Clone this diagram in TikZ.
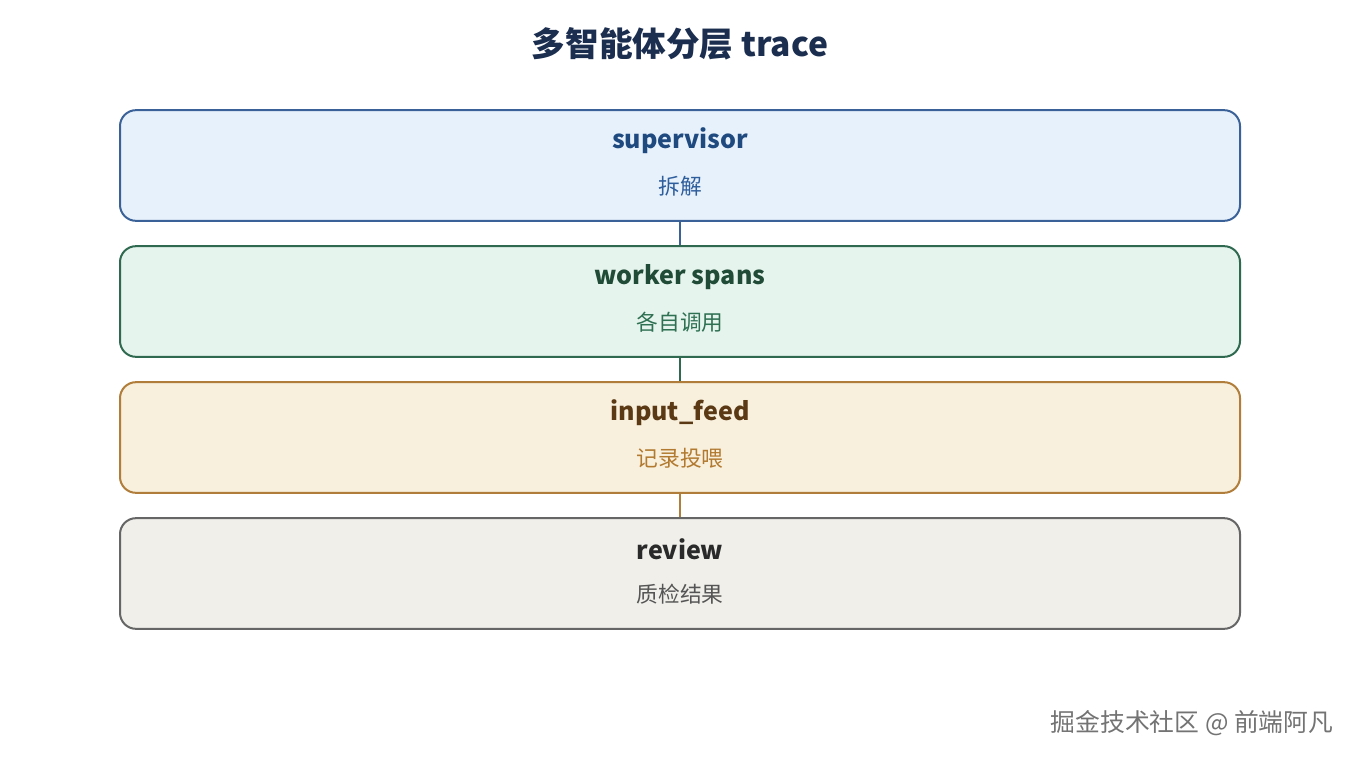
\documentclass[tikz,border=0pt]{standalone}
\usepackage{fontspec}
\setmainfont{Noto Sans CJK SC}
\usetikzlibrary{positioning}
\definecolor{titlec}{HTML}{1B2E4F}
\definecolor{fA}{HTML}{E7F1FB}\definecolor{dA}{HTML}{3A6298}\definecolor{tA}{HTML}{1F4A80}\definecolor{sA}{HTML}{2F5E9C}
\definecolor{fB}{HTML}{E6F4EE}\definecolor{dB}{HTML}{2F6A50}\definecolor{tB}{HTML}{1F4B37}\definecolor{sB}{HTML}{2E7052}
\definecolor{fC}{HTML}{F8EFDC}\definecolor{dC}{HTML}{B07D3A}\definecolor{tC}{HTML}{5A3914}\definecolor{sC}{HTML}{B27A30}
\definecolor{fD}{HTML}{F0EFEA}\definecolor{dD}{HTML}{666666}\definecolor{tD}{HTML}{2A2A2A}\definecolor{sD}{HTML}{555555}
\tikzset{
  layer/.style={draw, line width=1.5pt, rounded corners=12pt, minimum width=840pt, minimum height=83pt, inner sep=0pt},
  ltitle/.style={font=\fontsize{18.8}{22}\selectfont\bfseries},
  lsub/.style={font=\fontsize{16.3}{19}\selectfont},
  link/.style={line width=1.3pt},
}
\begin{document}
\begin{tikzpicture}[x=0.75pt,y=-0.75pt]
\useasboundingbox[fill=white] (0,0) rectangle (1360,760);
\node[font=\fontsize{25.2}{29}\selectfont\bfseries, text=titlec] (title) at (680,44) {多智能体分层 trace};

\node[layer, draw=dA, fill=fA] (sup) at (680,165.5) {};
\node[ltitle, text=tA] (supT) at (680,141) {supervisor};
\node[lsub, text=sA] (supS) at (680,186) {拆解};

\node[layer, draw=dB, fill=fB] (wrk) at (680,301.5) {};
\node[ltitle, text=tB] (wrkT) at (680,277) {worker spans};
\node[lsub, text=sB] (wrkS) at (680,322) {各自调用};

\node[layer, draw=dC, fill=fC] (inp) at (680,437.5) {};
\node[ltitle, text=tC] (inpT) at (680,413) {input\_feed};
\node[lsub, text=sC] (inpS) at (680,458) {记录投喂};

\node[layer, draw=dD, fill=fD] (rev) at (680,573.5) {};
\node[ltitle, text=tD] (revT) at (680,549) {review};
\node[lsub, text=sD] (revS) at (680,594) {质检结果};

\draw[link, dA] (sup.south) -- (wrk.north);
\draw[link, dB] (wrk.south) -- (inp.north);
\draw[link, dC] (inp.south) -- (rev.north);

\node[font=\fontsize{18.6}{22}\selectfont, text=black!55, anchor=east] (wm) at (1338,723) {掘金技术社区 @ 前端阿凡};
\end{tikzpicture}
\end{document}
